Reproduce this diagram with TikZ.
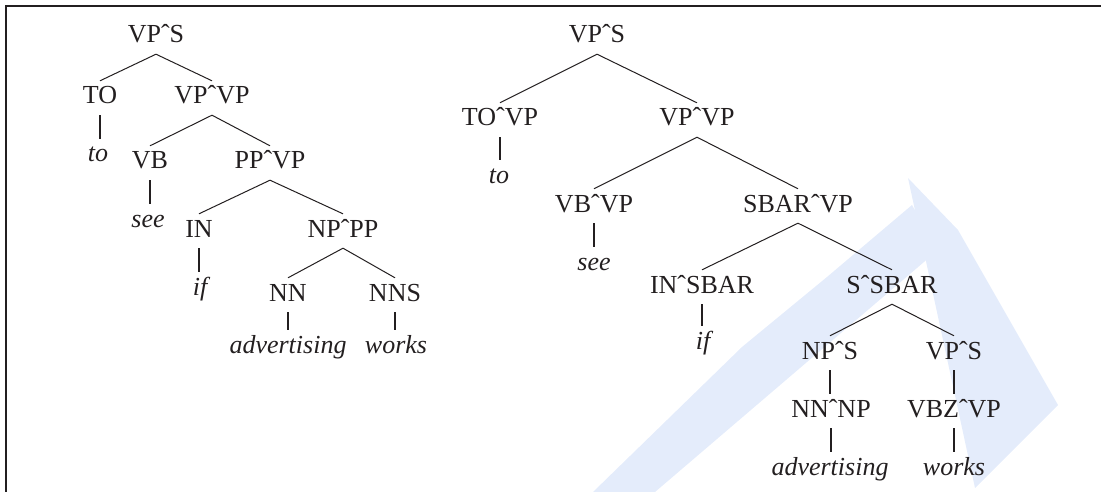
\documentclass[tikz,border=0pt]{standalone}
\usepackage{fontspec}
\setmainfont{Liberation Serif}
\definecolor{ink}{HTML}{231F20}
\definecolor{wm}{HTML}{E4ECFB}
\begin{document}
\begin{tikzpicture}[x=1pt,y=-1pt,
  lab/.style={anchor=base,font=\fontsize{26}{26}\selectfont,text=ink,
    text height=17pt,text depth=5pt,inner xsep=0pt,inner ysep=6pt},
  word/.style={lab,font=\fontsize{26}{26}\selectfont\itshape},
  br/.style={draw=ink,line width=1pt},
  un/.style={draw=ink,line width=2.6pt}]
\useasboundingbox (0,0) rectangle (1101,492);
% watermark
\fill[wm] (908,178) -- (958,230) -- (1058,405) -- (975,488) -- cycle;
\fill[wm] (593,492) -- (742,347) -- (827,277) -- (912,205) -- (938,250) -- (655,492) -- cycle;
% frame
\draw[ink,line width=2.2pt] (6,492) -- (6,6) -- (1101,6);
% left tree
\node[lab] (a1) at (156,43) {VPˆS};
\node[lab] (a2) at (100,104) {TO};
\node[lab] (a3) at (212,104) {VPˆVP};
\node[word] (a4) at (98,162) {to};
\node[lab] (a5) at (150,169) {VB};
\node[lab] (a6) at (270,169) {PPˆVP};
\node[word] (a7) at (148,227) {see};
\node[lab] (a8) at (199,237) {IN};
\node[lab] (a9) at (343,237) {NPˆPP};
\node[word] (a10) at (200,295) {if};
\node[lab] (a11) at (288,301) {NN};
\node[lab] (a12) at (395,301) {NNS};
\node[word] (a13) at (288,353) {advertising};
\node[word] (a14) at (396,353) {works};
\draw[br] (a2.north) -- (a1.south) -- (a3.north);
\draw[br] (a5.north) -- (a3.south) -- (a6.north);
\draw[br] (a8.north) -- (a6.south) -- (a9.north);
\draw[br] (a11.north) -- (a9.south) -- (a12.north);
\draw[un] (a2.south) -- (a2.south |- a4.north);
\draw[un] (a5.south) -- (a5.south |- a7.north);
\draw[un] (a8.south) -- (a8.south |- a10.north);
\draw[un] (a11.south) -- (a11.south |- a13.north);
\draw[un] (a12.south) -- (a12.south |- a14.north);
% right tree
\node[lab] (b1) at (597,43) {VPˆS};
\node[lab] (b2) at (500,126) {TOˆVP};
\node[lab] (b3) at (697,126) {VPˆVP};
\node[word] (b4) at (499,183) {to};
\node[lab] (b5) at (594,212) {VBˆVP};
\node[lab] (b6) at (798,212) {SBARˆVP};
\node[word] (b7) at (594,270) {see};
\node[lab] (b8) at (702,293) {INˆSBAR};
\node[lab] (b9) at (892,293) {SˆSBAR};
\node[word] (b10) at (703,349) {if};
\node[lab] (b11) at (830,359) {NPˆS};
\node[lab] (b12) at (954,359) {VPˆS};
\node[lab] (b13) at (831,417) {NNˆNP};
\node[lab] (b14) at (954,417) {VBZˆVP};
\node[word] (b15) at (830,475) {advertising};
\node[word] (b16) at (954,475) {works};
\draw[br] (b2.north) -- (b1.south) -- (b3.north);
\draw[br] (b5.north) -- (b3.south) -- (b6.north);
\draw[br] (b8.north) -- (b6.south) -- (b9.north);
\draw[br] (b11.north) -- (b9.south) -- (b12.north);
\draw[un] (b2.south) -- (b2.south |- b4.north);
\draw[un] (b5.south) -- (b5.south |- b7.north);
\draw[un] (b8.south) -- (b8.south |- b10.north);
\draw[un] (b11.south) -- (b11.south |- b13.north);
\draw[un] (b12.south) -- (b12.south |- b14.north);
\draw[un] (b13.south) -- (b13.south |- b15.north);
\draw[un] (b14.south) -- (b14.south |- b16.north);
\end{tikzpicture}
\end{document}
